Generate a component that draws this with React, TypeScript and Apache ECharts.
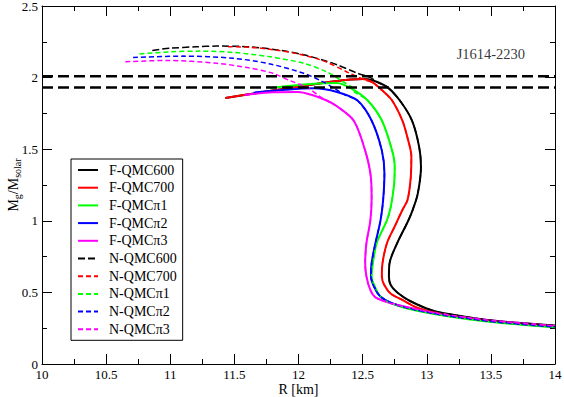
import React, { useEffect, useRef } from "react";
import * as echarts from "echarts";

const FONT = "'Liberation Serif', 'Times New Roman', serif";

const xTicks = { min: 10, max: 14, interval: 0.5 };
const yTicks = { min: 0, max: 2.5, interval: 0.5 };

const seriesNames = [
  "F-QMC600", "F-QMC700", "F-QMCπ1", "F-QMCπ2", "F-QMCπ3",
  "N-QMC600", "N-QMC700", "N-QMCπ1", "N-QMCπ2", "N-QMCπ3",
];
const seriesColors = ["#000000", "#ff0000", "#00ff00", "#0000ff", "#ff00ff"];

// [R (km), M/Msolar]
const fQMC600 = [
  [14.0, 0.268], [13.57, 0.298], [13.3, 0.33], [13.05, 0.372], [12.87, 0.44], [12.77, 0.5],
  [12.72, 0.55], [12.705, 0.61], [12.71, 0.705], [12.77, 0.845], [12.85, 0.99], [12.89, 1.075],
  [12.93, 1.19], [12.955, 1.38], [12.94, 1.52], [12.885, 1.7], [12.79, 1.84], [12.69, 1.935],
  [12.58, 1.98], [12.5, 1.99], [12.27, 1.973], [12.01, 1.938], [11.75, 1.903], [11.43, 1.857],
];
const fQMC700 = [
  [14.0, 0.264], [13.57, 0.295], [13.31, 0.322], [13.05, 0.362], [12.92, 0.395], [12.81, 0.447],
  [12.72, 0.49], [12.67, 0.55], [12.65, 0.61], [12.655, 0.705], [12.69, 0.845], [12.75, 0.96],
  [12.81, 1.075], [12.85, 1.145], [12.875, 1.3], [12.88, 1.45], [12.85, 1.58], [12.81, 1.7],
  [12.73, 1.84], [12.66, 1.905], [12.58, 1.965], [12.5, 1.99], [12.27, 1.973], [12.01, 1.938],
  [11.75, 1.903], [11.43, 1.857],
];
const fQMCpi1 = [
  [14.0, 0.256], [13.57, 0.288], [13.31, 0.315], [13.05, 0.35], [12.85, 0.388], [12.72, 0.425],
  [12.64, 0.47], [12.6, 0.53], [12.57, 0.61], [12.58, 0.705], [12.61, 0.845], [12.69, 1.005],
  [12.72, 1.1], [12.745, 1.25], [12.75, 1.38], [12.73, 1.49], [12.65, 1.7], [12.54, 1.84],
  [12.42, 1.92], [12.3, 1.962], [12.1, 1.955], [11.9, 1.94], [11.78, 1.928],
];
const fQMCpi2 = [
  [14.0, 0.26], [13.57, 0.292], [13.31, 0.319], [13.05, 0.354], [12.85, 0.392], [12.72, 0.428],
  [12.64, 0.47], [12.6, 0.52], [12.565, 0.61], [12.57, 0.705], [12.6, 0.845], [12.64, 1.005],
  [12.66, 1.145], [12.67, 1.33], [12.65, 1.49], [12.57, 1.7], [12.46, 1.84], [12.3, 1.9],
  [12.12, 1.925], [11.9, 1.915], [11.65, 1.895],
];
const fQMCpi3 = [
  [14.0, 0.266], [13.57, 0.298], [13.31, 0.325], [13.05, 0.36], [12.85, 0.397], [12.7, 0.43],
  [12.6, 0.465], [12.56, 0.517], [12.53, 0.61], [12.52, 0.705], [12.53, 0.845], [12.56, 1.0],
  [12.57, 1.15], [12.565, 1.3], [12.52, 1.49], [12.43, 1.7], [12.3, 1.8], [12.22, 1.84],
  [12.1, 1.88], [12.0, 1.9], [11.8, 1.897], [11.58, 1.878],
];

// N (hadronic) branches: upper dashed part, then joining the F curve
const nQMC600Top = [
  [10.86, 2.19], [11.0, 2.205], [11.2, 2.215], [11.36, 2.22], [11.62, 2.215], [11.86, 2.19],
  [12.04, 2.16], [12.2, 2.12], [12.3, 2.09], [12.46, 2.03], [12.56, 2.0], [12.63, 1.96],
];
const nQMC700Top = [
  [11.45, 2.215], [11.62, 2.212], [11.8, 2.195], [12.0, 2.165], [12.2, 2.115], [12.4, 2.03],
  [12.53, 1.98],
];
const nQMCpi1Top = [
  [10.76, 2.165], [11.0, 2.18], [11.23, 2.185], [11.5, 2.175], [11.78, 2.145], [12.04, 2.1],
  [12.22, 2.04], [12.35, 1.97], [12.42, 1.925],
];
const nQMCpi2Top = [
  [10.71, 2.14], [11.1, 2.15], [11.49, 2.135], [11.78, 2.095], [12.04, 2.03], [12.17, 1.98],
  [12.27, 1.93], [12.36, 1.88],
];
const nQMCpi3Top = [
  [10.65, 2.11], [10.97, 2.12], [11.36, 2.1], [11.6, 2.07], [11.8, 2.03], [11.93, 1.98],
  [12.07, 1.93], [12.17, 1.865], [12.22, 1.84],
];

// J1614-2230 mass band
const pulsarName = "J1614-2230";
const pulsarBand = [2.01, 1.93];
const pulsarLabelPos = [13.5, 2.165];

const fCurves = [fQMC600, fQMC700, fQMCpi1, fQMCpi2, fQMCpi3];
const nTops = [nQMC600Top, nQMC700Top, nQMCpi1Top, nQMCpi2Top, nQMCpi3Top];

function joinBranch(top: number[][], f: number[][]) {
  const end = top[top.length - 1];
  const idx = f.findIndex((p) => p[1] >= end[1] - 1e-9 || (p[1] > end[1] - 0.02 && p[0] < end[0]));
  const cut = idx < 0 ? f.length : idx;
  const lower = f.slice(0, cut).filter((p) => p[1] < end[1]);
  return top.concat(lower.slice().reverse());
}

export default function App() {
  const ref = useRef<HTMLDivElement>(null);
  useEffect(() => {
    if (!ref.current) return;
    const chart = echarts.init(ref.current, null, { renderer: "svg" });
    const axisCommon = {
      axisLine: { show: true, onZero: false, lineStyle: { color: "#000", width: 1 } },
      axisTick: { show: true, inside: true, length: 10, lineStyle: { color: "#000", width: 1 } },
      minorTick: { show: true, splitNumber: 2, length: 5, lineStyle: { color: "#000", width: 1 } },
      splitLine: { show: false },
      minorSplitLine: { show: false },
    };
    const series: any[] = [];
    fCurves.forEach((d, i) => {
      series.push({
        name: seriesNames[i],
        type: "line",
        data: d,
        symbol: "none",
        smooth: 0.3,
        lineStyle: { color: seriesColors[i], width: 2 },
        itemStyle: { color: seriesColors[i] },
        z: 2,
      });
    });
    nTops.forEach((top, i) => {
      series.push({
        name: seriesNames[5 + i],
        type: "line",
        data: joinBranch(top, fCurves[i]),
        symbol: "none",
        smooth: 0.3,
        lineStyle: { color: seriesColors[i], width: 1.5, type: i === 0 ? [7, 3] : [5, 3] },
        itemStyle: { color: seriesColors[i] },
        z: 3,
      });
    });
    pulsarBand.forEach((m, i) => {
      series.push({
        name: "band" + i,
        type: "line",
        data: [[xTicks.min, m], [xTicks.max, m]],
        symbol: "none",
        lineStyle: { color: "#000", width: 2.5, type: [11, 5] },
        z: 4,
        silent: true,
      });
    });
    series.push({
      name: "label",
      type: "scatter",
      data: [pulsarLabelPos],
      symbolSize: 0,
      silent: true,
      label: {
        show: true,
        position: "inside",
        formatter: pulsarName,
        color: "#000",
        fontFamily: FONT,
        fontSize: 14.5,
      },
    });

    chart.setOption({
      animation: false,
      backgroundColor: "#fff",
      grid: { left: 42, right: 9, top: 6, bottom: 33, outerBoundsMode: "none", containLabel: false },
      legend: {
        data: seriesNames,
        orient: "vertical",
        left: 71,
        top: 159,
        itemWidth: 20,
        itemHeight: 14,
        itemGap: 3.7,
        padding: [4, 6, 4, 6],
        borderColor: "#000",
        borderWidth: 1,
        backgroundColor: "#fff",
        itemStyle: { opacity: 0 },
        textStyle: { fontFamily: FONT, fontSize: 14, color: "#000", padding: [0, 0, 0, 6] },
        selectedMode: false,
      },
      xAxis: [
        {
          type: "value",
          ...xTicks,
          position: "bottom",
          ...axisCommon,
          axisLabel: { color: "#000", fontFamily: FONT, fontSize: 13, margin: 4 },
          name: "R [km]",
          nameLocation: "middle",
          nameGap: 18,
          nameMoveOverlap: false,
          nameTextStyle: { color: "#000", fontFamily: FONT, fontSize: 14 },
        },
        {
          type: "value",
          ...xTicks,
          position: "top",
          ...axisCommon,
          axisLabel: { show: false },
        },
      ],
      yAxis: [
        {
          type: "value",
          ...yTicks,
          position: "left",
          ...axisCommon,
          axisLabel: { color: "#000", fontFamily: FONT, fontSize: 13, margin: 4 },
          name: "{m|M}{s|g}{m|/M}{s|solar}",
          nameLocation: "middle",
          nameGap: 20,
          nameRotate: 90,
          nameMoveOverlap: false,
          nameTextStyle: {
            rich: {
              m: { fontFamily: FONT, fontSize: 14, color: "#000", lineHeight: 18 },
              s: { fontFamily: FONT, fontSize: 10, color: "#000", lineHeight: 18, verticalAlign: "bottom" },
            },
          },
        },
        {
          type: "value",
          ...yTicks,
          position: "right",
          ...axisCommon,
          axisLabel: { show: false },
        },
      ],
      series,
    });
    return () => chart.dispose();
  }, []);
  return <div ref={ref} style={{ width: 564, height: 397, position: "absolute", left: 0, top: 0 }} />;
}
